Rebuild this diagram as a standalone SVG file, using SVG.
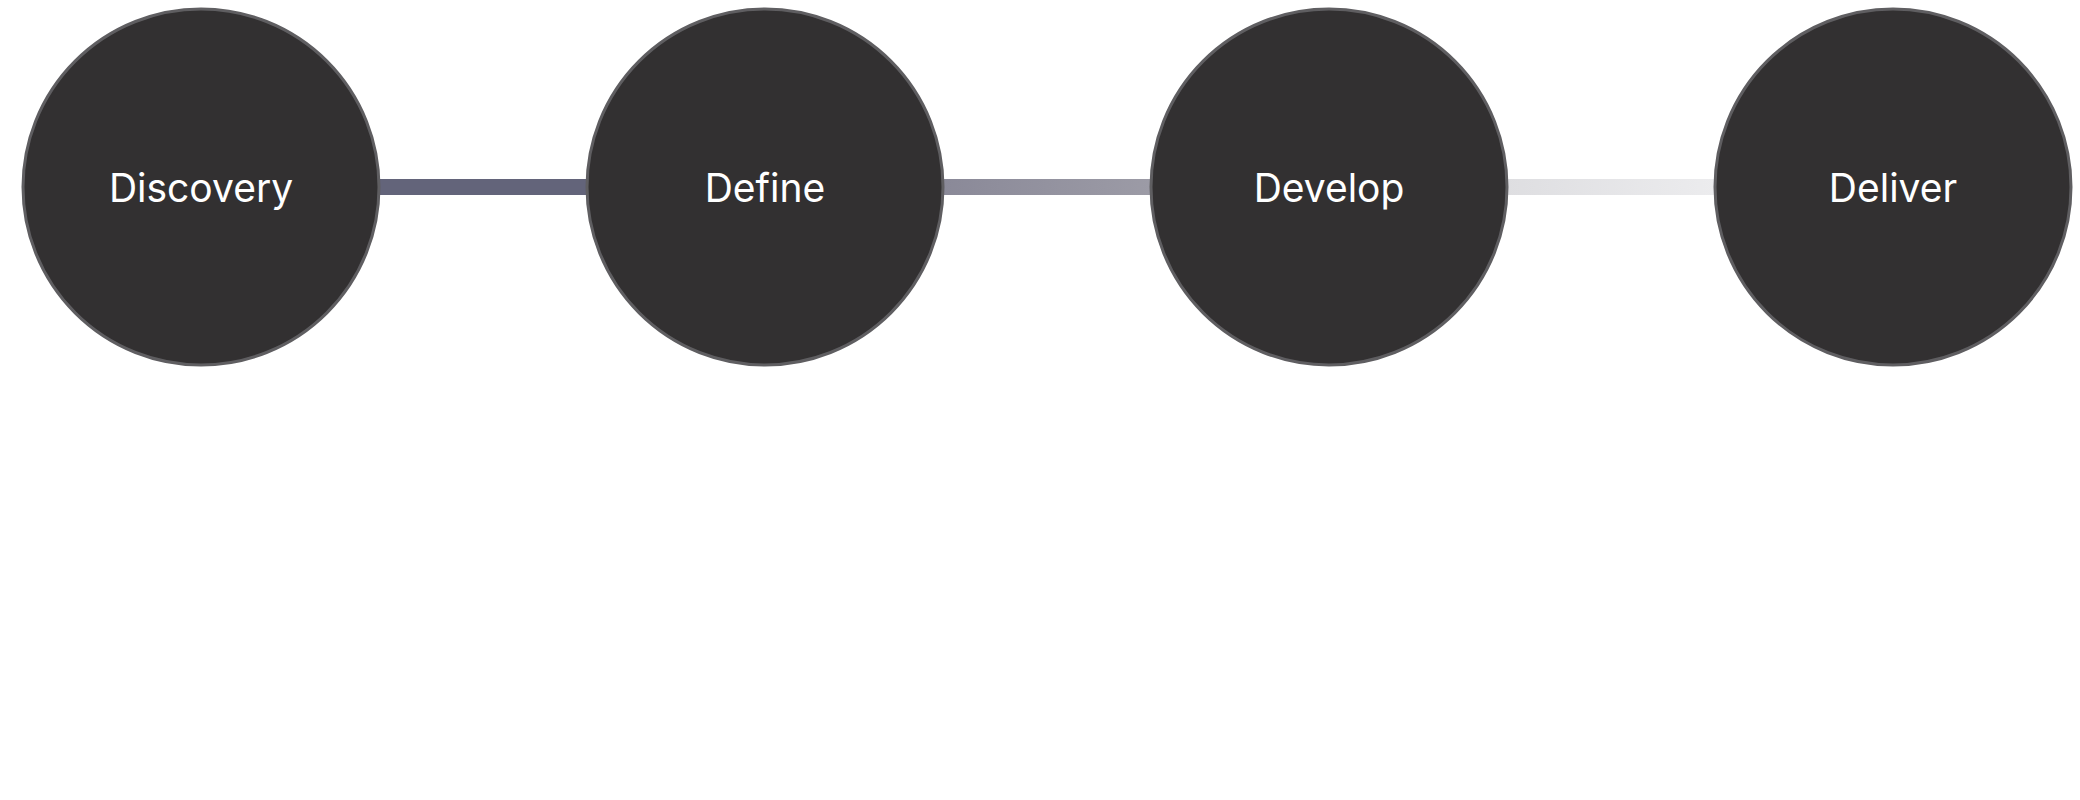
<svg xmlns="http://www.w3.org/2000/svg" width="2080" height="800" viewBox="0 0 2080 800">
<style>
.node circle{fill:#323031;stroke:#5f5e61;stroke-width:3}
.node text{fill:#ffffff;font-family:Inter,"Liberation Sans",sans-serif;font-size:39px;text-anchor:middle}
</style>
<defs>
<linearGradient id="g2" x1="0" x2="1" y1="0" y2="0">
<stop offset="0" stop-color="#8a8998"/>
<stop offset="1" stop-color="#9c9ba6"/>
</linearGradient>
<linearGradient id="g3" x1="0" x2="1" y1="0" y2="0">
<stop offset="0" stop-color="#dedee1"/>
<stop offset="1" stop-color="#ececee"/>
</linearGradient>
</defs>
<rect width="2080" height="800" fill="#ffffff"/>
<g id="connectors">
<rect x="378" y="179" width="210" height="16" fill="#63647a"/>
<rect x="942" y="179" width="210" height="16" fill="url(#g2)"/>
<rect x="1506" y="179" width="210" height="16" fill="url(#g3)"/>
</g>
<g id="discovery" class="node"><circle cx="201" cy="187" r="178"/><text x="201" y="202">Discovery</text></g>
<g id="define" class="node"><circle cx="765" cy="187" r="178"/><text x="765" y="202">Define</text></g>
<g id="develop" class="node"><circle cx="1329" cy="187" r="178"/><text x="1329" y="202">Develop</text></g>
<g id="deliver" class="node"><circle cx="1893" cy="187" r="178"/><text x="1893" y="202">Deliver</text></g>
</svg>
